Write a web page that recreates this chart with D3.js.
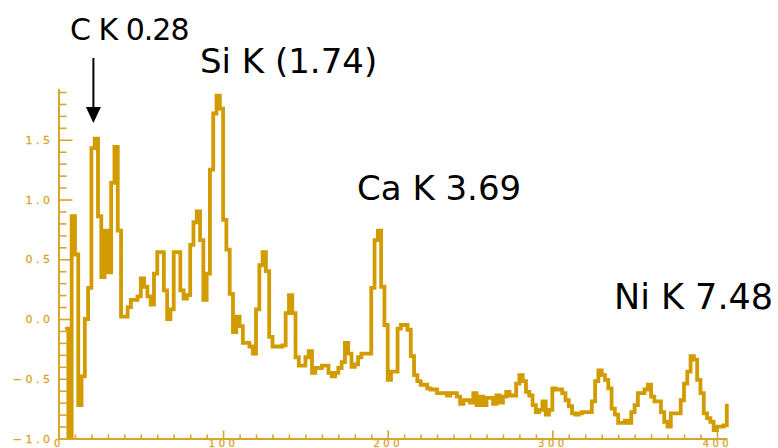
<!DOCTYPE html>
<html>
<head>
<meta charset="utf-8">
<script src="https://cdn.jsdelivr.net/npm/d3@7"></script>
<style>
  html, body { margin: 0; padding: 0; background: #ffffff; }
  svg { display: block; }
</style>
</head>
<body>
<svg id="chart" width="778" height="448"></svg>
<script>
// EDS spectrum: one value per 2-channel bin, starting at channel 4
const startChannel = 4;
const binWidth = 2;
const signal = [
  -0.08, -0.98, 0.86, 0.54, -0.72, -0.48, 0.00, 0.26, 1.43, 1.51,
  0.86, 0.35, 0.74, 0.39, 1.14, 1.44, 0.74, 0.02, 0.02, 0.10,
  0.16, 0.16, 0.19, 0.34, 0.27, 0.19, 0.12, 0.38, 0.56, 0.56,
  0.24, 0.00, 0.08, 0.56, 0.56, 0.24, 0.17, 0.20, 0.62, 0.81,
  0.90, 0.66, 0.16, 0.38, 1.25, 1.72, 1.87, 1.76, 0.83, 0.58,
  0.21, -0.11, 0.02, -0.06, -0.20, -0.20, -0.23, -0.29, 0.08, 0.45,
  0.56, 0.40, -0.15, -0.23, -0.23, -0.23, -0.22, 0.05, 0.20, 0.05,
  -0.32, -0.39, -0.39, -0.32, -0.27, -0.45, -0.41, -0.41, -0.39, -0.39,
  -0.45, -0.48, -0.45, -0.41, -0.36, -0.20, -0.29, -0.40, -0.38, -0.32,
  -0.29, -0.29, -0.29, 0.26, 0.66, 0.74, 0.27, -0.05, -0.51, -0.44,
  -0.44, -0.08, -0.05, -0.05, -0.09, -0.31, -0.47, -0.52, -0.55, -0.55,
  -0.58, -0.59, -0.59, -0.62, -0.62, -0.62, -0.64, -0.62, -0.62, -0.65,
  -0.71, -0.68, -0.68, -0.70, -0.62, -0.72, -0.65, -0.72, -0.66, -0.66,
  -0.71, -0.64, -0.70, -0.65, -0.61, -0.64, -0.64, -0.54, -0.47, -0.52,
  -0.61, -0.64, -0.72, -0.78, -0.76, -0.69, -0.80, -0.76, -0.58, -0.59,
  -0.59, -0.62, -0.68, -0.73, -0.79, -0.80, -0.79, -0.78, -0.78, -0.78,
  -0.69, -0.52, -0.43, -0.47, -0.51, -0.58, -0.75, -0.80, -0.87, -0.87,
  -0.85, -0.87, -0.78, -0.72, -0.62, -0.62, -0.59, -0.55, -0.65, -0.69,
  -0.69, -0.78, -0.86, -0.90, -0.79, -0.79, -0.79, -0.68, -0.54, -0.44,
  -0.31, -0.34, -0.51, -0.62, -0.79, -0.83, -0.86, -0.93, -0.90, -0.90,
  -0.89, -0.71
];

// Axis ticks
const xMajorTicks = [0, 100, 200, 300, 400];
const yMajorTicks = [-1.0, -0.5, 0.0, 0.5, 1.0, 1.5];

// Element line annotations
const peakLabels = ["C K 0.28", "Si K (1.74)", "Ca K 3.69", "Ni K 7.48"];
const arrowChannel = 21.2;

const gold = "#d29b00";
const axisGold = "#d9a52a";

const svg = d3.select("#chart");

const x = d3.scaleLinear().domain([0, 406]).range([58.5, 726.8]);
const y = d3.scaleLinear().domain([-1.0, 1.93]).range([438.5, 88.4]);

const points = signal.map((v, i) => ({ ch: startChannel + i * binWidth, v }));

// ---- axes ----
const xMinor = d3.range(0, 406, 10).filter(t => !xMajorTicks.includes(t));
const yMinor = d3.range(-10, 20).map(k => k / 10).filter(t => !yMajorTicks.some(m => Math.abs(m - t) < 1e-9));

function styleAxis(g, size) {
  g.selectAll("path.domain").attr("stroke", axisGold).attr("stroke-width", 2);
  g.selectAll(".tick line").attr("stroke", axisGold).attr("stroke-width", 1.6);
  g.selectAll(".tick text")
    .attr("fill", axisGold)
    .attr("stroke", axisGold)
    .attr("stroke-width", 0.3)
    .style("font-family", "'DejaVu Sans', sans-serif")
    .style("font-size", (size || 11) + "px")
    .style("letter-spacing", "3.5px");
}

// y axis: minor then major (ticks point into the plot)
svg.append("g")
  .attr("transform", `translate(${x(0)},0)`)
  .call(d3.axisLeft(y).tickValues(yMinor).tickSize(-8).tickSizeOuter(0).tickFormat(""))
  .call(styleAxis);

svg.append("g")
  .attr("transform", `translate(${x(0)},0)`)
  .call(d3.axisLeft(y).tickValues(yMajorTicks).tickSize(-14).tickSizeOuter(0)
        .tickPadding(5).tickFormat(d3.format(".1f")))
  .call(styleAxis, 11);

// x axis
svg.append("g")
  .attr("transform", `translate(0,${y(-1.0)})`)
  .call(d3.axisBottom(x).tickValues(xMinor).tickSize(-4).tickSizeOuter(0).tickFormat(""))
  .call(styleAxis);

svg.append("g")
  .attr("transform", `translate(0,${y(-1.0)})`)
  .call(d3.axisBottom(x).tickValues(xMajorTicks).tickSize(-8).tickSizeOuter(0)
        .tickPadding(1).tickFormat(d3.format("d")))
  .call(styleAxis, 10);

// ---- spectrum ----
const line = d3.line()
  .x(d => x(d.ch))
  .y(d => y(d.v))
  .curve(d3.curveStepAfter);

svg.append("path")
  .datum(points)
  .attr("fill", "none")
  .attr("stroke", gold)
  .attr("stroke-width", 3.8)
  .attr("stroke-linejoin", "miter")
  .attr("d", line);

// ---- annotations ----
const labelFont = "'DejaVu Sans', sans-serif";
const labelSpecs = [
  { text: peakLabels[0], x: 70, y: 40, size: 30, spacing: -1 },
  { text: peakLabels[1], x: 200, y: 73, size: 34, spacing: 0 },
  { text: peakLabels[2], x: 357, y: 200, size: 34, spacing: 0 },
  { text: peakLabels[3], x: 614, y: 309, size: 35, spacing: 0 }
];

svg.append("g").selectAll("text")
  .data(labelSpecs)
  .join("text")
  .attr("x", d => d.x)
  .attr("y", d => d.y)
  .attr("fill", "#000")
  .style("font-family", labelFont)
  .style("font-size", d => d.size + "px")
  .style("letter-spacing", d => d.spacing + "px")
  .text(d => d.text);

// arrow pointing down at the carbon peak
const ax = x(arrowChannel);
svg.append("line")
  .attr("x1", ax).attr("x2", ax)
  .attr("y1", 58).attr("y2", 110)
  .attr("stroke", "#000").attr("stroke-width", 2);
svg.append("path")
  .attr("d", `M${ax - 7.5},107 L${ax + 7.5},107 L${ax},123 Z`)
  .attr("fill", "#000");
</script>
</body>
</html>
